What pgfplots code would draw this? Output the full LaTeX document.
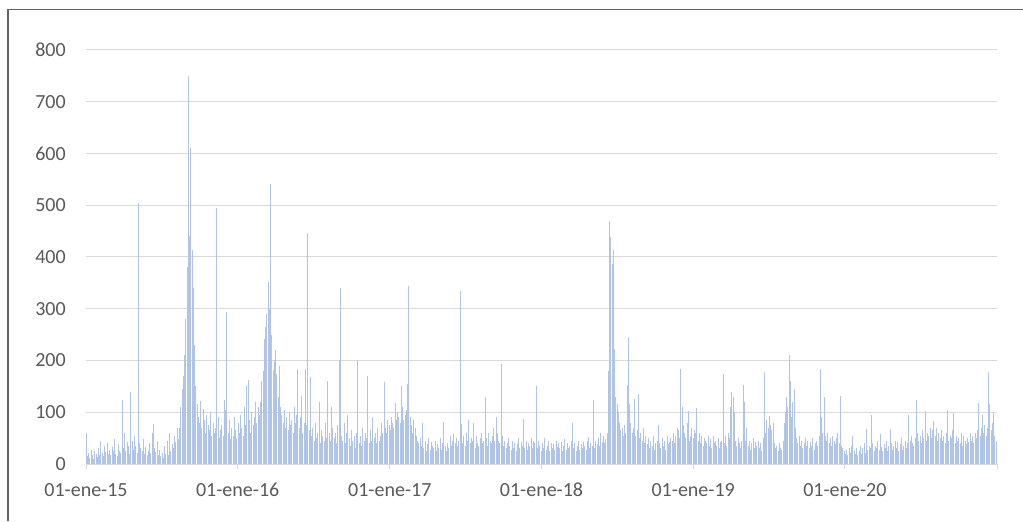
\documentclass[border=0pt]{standalone}
\usepackage{pgfplots}
\pgfplotsset{compat=1.18}
\usepackage{pgfplotstable}
\usepackage{fontspec}
\setmainfont{Carlito}
\definecolor{barc}{RGB}{176,196,232}
\definecolor{gridc}{RGB}{217,217,217}
\definecolor{txtc}{RGB}{89,89,89}
\definecolor{framec}{RGB}{100,100,100}
% daily series sampled every 3 days, from 01-ene-15
\pgfplotstableread[row sep=\\]{
v\\
60\\15\\22\\12\\28\\18\\10\\25\\20\\14\\
30\\18\\45\\22\\16\\35\\24\\40\\20\\28\\
18\\32\\25\\48\\20\\15\\38\\26\\22\\124\\
30\\60\\25\\42\\35\\20\\140\\45\\28\\55\\
35\\22\\505\\40\\30\\25\\48\\20\\33\\18\\
26\\40\\22\\60\\77\\30\\24\\45\\18\\28\\
15\\22\\12\\35\\20\\45\\18\\60\\25\\38\\
30\\55\\42\\70\\48\\70\\110\\145\\170\\210\\
280\\380\\750\\440\\610\\414\\340\\230\\150\\115\\
90\\80\\122\\70\\106\\85\\60\\95\\75\\65\\
100\\55\\80\\60\\70\\494\\90\\50\\65\\75\\
55\\124\\105\\294\\60\\85\\48\\70\\55\\90\\
65\\50\\80\\60\\95\\70\\55\\110\\75\\150\\
163\\85\\60\\100\\75\\90\\120\\80\\110\\95\\
120\\161\\180\\242\\265\\290\\352\\300\\542\\250\\
181\\200\\221\\174\\130\\190\\110\\95\\80\\105\\
70\\90\\65\\100\\75\\85\\60\\110\\80\\95\\
184\\70\\90\\132\\60\\80\\184\\75\\446\\65\\
168\\55\\70\\45\\80\\50\\60\\119\\40\\65\\
55\\45\\80\\50\\161\\60\\45\\110\\70\\50\\
60\\40\\75\\201\\341\\55\\45\\80\\40\\60\\
94\\50\\35\\65\\45\\55\\30\\60\\199\\40\\
55\\35\\70\\45\\60\\50\\171\\40\\65\\45\\
90\\50\\60\\40\\70\\45\\55\\80\\60\\158\\
70\\60\\85\\75\\65\\90\\80\\70\\117\\85\\
100\\90\\80\\150\\110\\85\\95\\105\\155\\343\\
90\\75\\60\\85\\70\\55\\45\\40\\50\\35\\
79\\30\\45\\25\\38\\50\\28\\42\\35\\30\\
45\\25\\38\\30\\50\\28\\40\\81\\35\\25\\
40\\30\\55\\35\\45\\58\\40\\50\\35\\45\\
334\\77\\40\\55\\35\\60\\45\\85\\40\\50\\
45\\79\\30\\55\\40\\35\\50\\60\\40\\45\\
130\\50\\35\\60\\45\\40\\55\\70\\45\\90\\
60\\45\\40\\194\\55\\35\\45\\30\\40\\50\\
35\\28\\45\\30\\40\\25\\38\\50\\30\\42\\
35\\87\\30\\45\\28\\40\\35\\50\\30\\45\\
40\\150\\30\\45\\35\\25\\40\\30\\50\\28\\
35\\45\\25\\40\\30\\38\\28\\45\\32\\40\\
30\\42\\25\\35\\48\\28\\40\\30\\35\\45\\
79\\30\\40\\25\\35\\45\\28\\38\\30\\42\\
35\\28\\45\\52\\30\\40\\35\\124\\30\\45\\
38\\50\\35\\60\\42\\55\\40\\48\\60\\180\\
469\\439\\386\\414\\223\\130\\116\\100\\80\\65\\
70\\55\\75\\60\\152\\245\\116\\80\\60\\70\\
126\\55\\65\\135\\50\\60\\45\\70\\40\\55\\
38\\50\\30\\45\\35\\55\\28\\40\\45\\75\\
40\\30\\50\\35\\45\\28\\55\\38\\42\\50\\
45\\60\\40\\55\\70\\65\\50\\184\\110\\75\\
60\\50\\80\\102\\45\\55\\70\\50\\65\\60\\
108\\45\\60\\40\\55\\35\\50\\45\\40\\55\\
35\\48\\30\\55\\40\\45\\35\\50\\30\\42\\
45\\174\\40\\55\\35\\60\\50\\110\\139\\130\\
100\\45\\35\\50\\40\\30\\45\\152\\120\\45\\
70\\35\\45\\28\\40\\50\\30\\42\\35\\45\\
30\\40\\25\\50\\177\\60\\85\\70\\92\\75\\
65\\80\\40\\30\\35\\25\\40\\30\\28\\45\\
80\\100\\130\\110\\210\\160\\90\\120\\145\\70\\
50\\40\\55\\35\\45\\30\\40\\50\\35\\45\\
30\\42\\35\\50\\28\\40\\45\\35\\55\\184\\
90\\60\\129\\55\\45\\60\\40\\50\\35\\55\\
45\\38\\50\\60\\40\\132\\35\\30\\25\\20\\
28\\18\\30\\22\\35\\55\\25\\20\\30\\18\\
25\\35\\20\\30\\40\\22\\68\\28\\35\\30\\
94\\40\\25\\35\\30\\45\\28\\58\\32\\25\\
38\\30\\45\\25\\35\\68\\40\\28\\35\\45\\
30\\42\\25\\38\\50\\28\\35\\45\\30\\40\\
94\\45\\55\\40\\35\\50\\124\\60\\45\\55\\
40\\65\\50\\103\\45\\60\\55\\70\\50\\65\\
84\\55\\70\\45\\60\\50\\65\\45\\55\\40\\
60\\104\\45\\55\\50\\65\\98\\40\\55\\45\\
50\\40\\60\\35\\55\\45\\38\\50\\42\\60\\
45\\55\\40\\60\\50\\65\\117\\55\\70\\94\\
60\\75\\55\\70\\177\\116\\65\\80\\100\\55\\
45\\
}\datatable
\begin{document}
\begin{tikzpicture}
\useasboundingbox (0,0) rectangle (767.25pt,390.75pt);
\draw[framec, line width=0.9pt] (6pt,0) -- (6pt,383.6pt) -- (767.25pt,383.6pt);
\begin{axis}[
  at={(64.5pt,42.75pt)}, anchor=south west,
  scale only axis, width=683.25pt, height=310.5pt,
  xmin=0, xmax=2192, ymin=0, ymax=800,
  axis x line*=bottom, axis y line*=left,
  x axis line style={draw=gridc, line width=0.75pt, -},
  y axis line style={draw=none},
  ytick={0,100,...,800},
  ymajorgrids, grid style={draw=gridc, line width=0.75pt},
  ytick style={draw=none},
  xtick={0,365,731,1096,1461,1826,2192},
  xticklabels={01-ene-15,01-ene-16,01-ene-17,01-ene-18,01-ene-19,01-ene-20,},
  tick align=outside, major tick length=3.75pt,
  xtick style={draw=gridc, line width=0.75pt},
  ticklabel style={font=\fontsize{15}{18}\selectfont, text=txtc},
  /pgf/number format/assume math mode=true,
  yticklabel style={anchor=east, inner sep=0pt, xshift=-11.25pt},
  xticklabel style={anchor=north, inner sep=0pt, yshift=-10.5pt},
]
\addplot[ycomb, draw=barc, line width=0.7pt, no markers] table[x expr=\coordindex*3, y=v] {\datatable};
\end{axis}
\end{tikzpicture}
\end{document}
